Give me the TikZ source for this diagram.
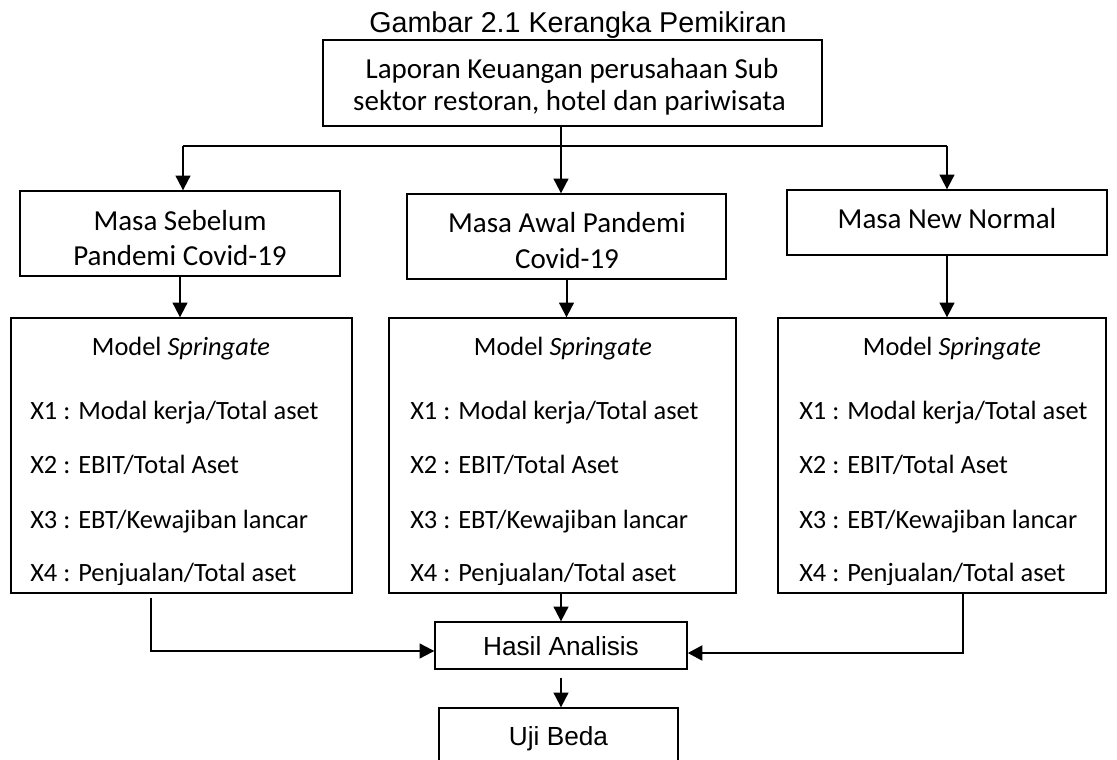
\documentclass[tikz,border=0pt]{standalone}
\usepackage{fontspec}
\setmainfont{Carlito}
\newfontfamily\arialf{Liberation Sans}
\usetikzlibrary{arrows.meta,calc}
\begin{document}
\begin{tikzpicture}[x=0.75pt,y=-0.75pt,
  box/.style={draw=black,line width=1pt,rectangle,inner sep=0pt},
  arr/.style={line width=1.5pt,-{Triangle[length=11pt,width=11pt]}},
  lbl/.style={anchor=base,inner sep=0pt,text=black},
  big/.style={font=\fontsize{21.75}{26}\selectfont},
  mid/.style={font=\fontsize{19.8}{24}\selectfont},
  ari/.style={font=\arialf\fontsize{19.65}{24}\selectfont},
  tit/.style={font=\arialf\fontsize{21.5}{26}\selectfont},
]
\useasboundingbox (0,0) rectangle (1117,760);
\clip (0,0) rectangle (1117,760);
\fill[white] (0,0) rectangle (1117,760);

% title
\node[lbl,tit] (title) at (578,32) {Gambar 2.1 Kerangka Pemikiran};

% boxes
\node[box,minimum width=374.25pt,minimum height=64.5pt] (TB) at (572.5,83) {};
\node[box,minimum width=240pt,minimum height=63.75pt] (B1) at (180,233.5) {};
\node[box,minimum width=239.25pt,minimum height=63.75pt] (B2) at (566.5,236.5) {};
\node[box,minimum width=240pt,minimum height=48.75pt] (B3) at (947,222.5) {};
\node[box,minimum width=255.75pt,minimum height=206.25pt] (MB1) at (181.5,455.5) {};
\node[box,minimum width=260.25pt,minimum height=206.25pt] (MB2) at (562.5,455.5) {};
\node[box,minimum width=246pt,minimum height=206.25pt] (MB3) at (942,455.5) {};
\node[box,minimum width=189pt,minimum height=35.25pt] (HA) at (561,645.5) {};
\node[box,minimum width=179.25pt,minimum height=45pt] (UB) at (558.5,738) {};

% texts in top boxes
\node[lbl,big] (tb1) at (572,78) {Laporan Keuangan perusahaan Sub};
\node[lbl,big] (tb2) at (569.5,110) {sektor restoran, hotel dan pariwisata};
\node[lbl,big] (b1a) at (180,230) {Masa Sebelum};
\node[lbl,big] (b1b) at (180,265) {Pandemi Covid-19};
\node[lbl,big] (b2a) at (567,232) {Masa Awal Pandemi};
\node[lbl,big] (b2b) at (567,268) {Covid-19};
\node[lbl,big] (b3a) at (947,228) {Masa New Normal};

% model texts
\begin{scope}
\clip (0,300) rectangle (1117,584);
\foreach \k/\xl/\xc in {1/30/181, 2/410/563, 3/799/952}{
  \node[lbl,mid] (m\k t) at (\xc,355) {Model \textit{Springate}};
  \node[lbl,mid,anchor=base west] (m\k a) at (\xl,419) {X1 : Modal kerja/Total aset};
  \node[lbl,mid,anchor=base west] (m\k b) at (\xl,473) {X2 : EBIT/Total Aset};
  \node[lbl,mid,anchor=base west] (m\k c) at (\xl,528) {X3 : EBT/Kewajiban lancar};
  \node[lbl,mid,anchor=base west] (m\k d) at (\xl,581) {X4 : Penjualan/Total aset};
}
\end{scope}

\node[lbl,ari] (hat) at (561,655) {Hasil Analisis};
\node[lbl,ari] (ubt) at (558.5,745) {Uji Beda};

% connectors
\coordinate (hubL) at (183,146);
\coordinate (hubC) at (561,146);
\coordinate (hubR) at (947,146);
\draw[line width=2pt] (hubL) -- (hubR);
\draw[arr] (TB.south -| hubC) -- (B2.north -| hubC);
\draw[arr] (hubL) -- (B1.north -| hubL);
\draw[arr] (hubR) -- (B3.north -| hubR);

\draw[arr] (B1.south) -- (B1.south |- MB1.north);
\draw[arr] (B2.south) -- (B2.south |- MB2.north);
\draw[arr] (B3.south) -- (B3.south |- MB3.north);

\coordinate (cl) at (151,651);
\coordinate (cr) at (963,653);
\draw[arr] ([yshift=-3pt]MB1.south -| cl) -- (cl) -- (HA.west |- cl);
\draw[arr] (MB2.south -| HA.north) -- (HA.north);
\draw[arr,line width=2.2pt] (MB3.south -| cr) -- (cr) -- (HA.east |- cr);
\draw[arr] ([yshift=-6pt]HA.south) -- (HA.south |- UB.north);
\end{tikzpicture}
\end{document}
